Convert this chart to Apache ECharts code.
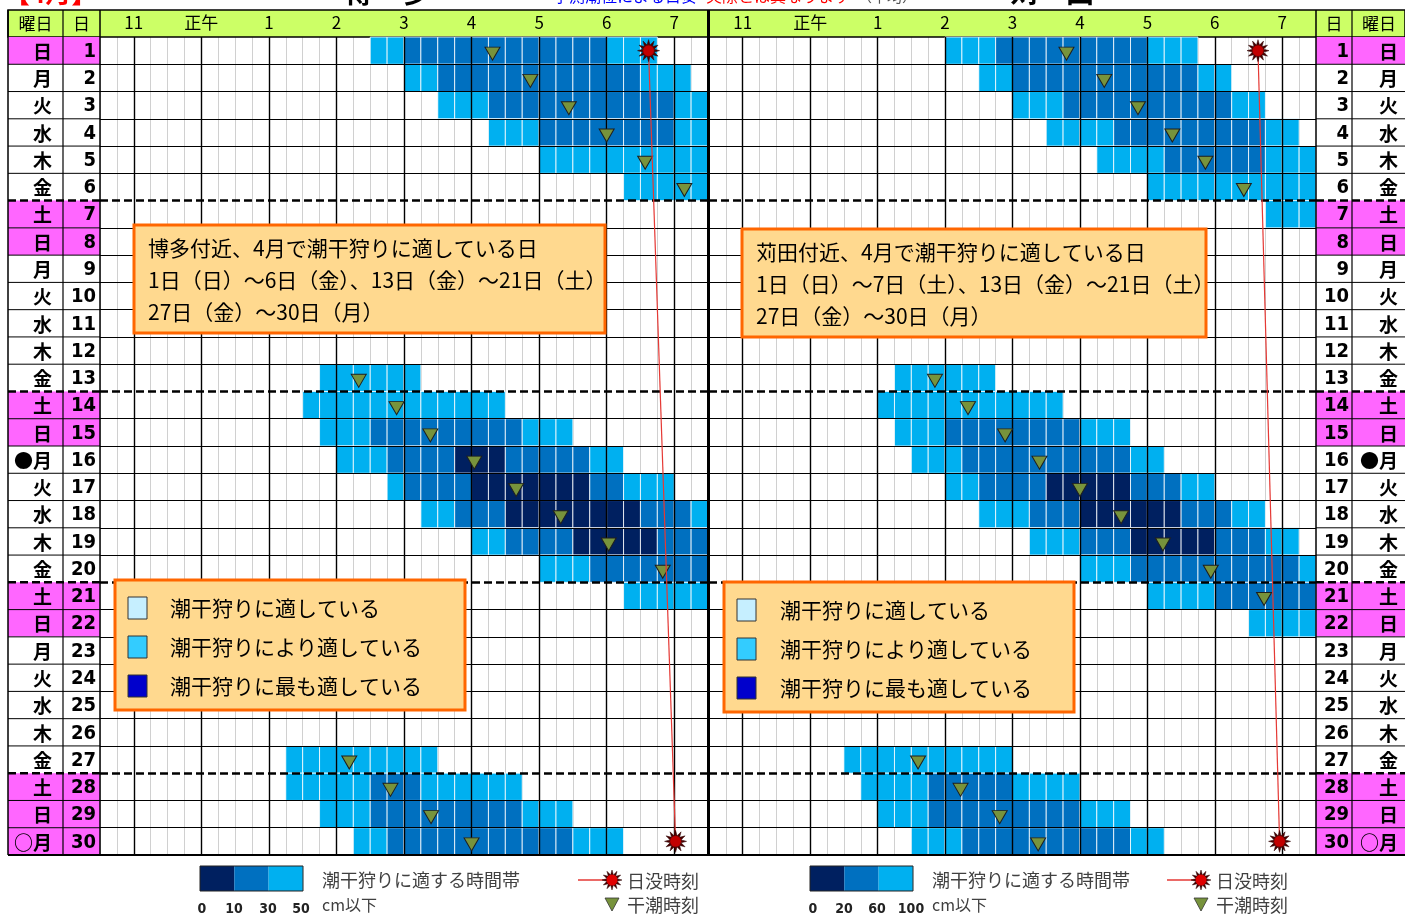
<!DOCTYPE html>
<html lang="ja">
<head>
<meta charset="utf-8">
<title>潮干狩りカレンダー 4月</title>
<script src="https://cdn.jsdelivr.net/npm/echarts@6.0.0/dist/echarts.min.js"></script>
<style>
html,body{margin:0;padding:0;background:#ffffff;}
#chart{width:1405px;height:916px;}
</style>
</head>
<body>
<div id="chart"></div>
<script>
// ---------------- data ----------------
const days = [1,2,3,4,5,6,7,8,9,10,11,12,13,14,15,16,17,18,19,20,21,22,23,24,25,26,27,28,29,30];
const weekdays = ['日','月','火','水','木','金','土','日','月','火','水','木','金','土','日','●月','火','水','木','金','土','日','月','火','水','木','金','土','日','○月'];
const holidayDays = [1,7,8,14,15,21,22,28,29,30];
const weekBreaks = [6,13,20,27];
const hourTicks = [11,12,13,14,15,16,17,18,19];
const hourLabels = ['11','正午','1','2','3','4','5','6','7'];
const slotStart = 10.5;     // first 15-minute slot starts 10:30
const slotLength = 0.25;    // 15 minutes

// [day, first slot, last slot, level]  level 1: light, 2: medium, 3: dark
const hakataBands = [
  [1,16,17,1],[1,18,29,2],[1,30,32,1],
  [2,18,19,1],[2,20,31,2],[2,32,34,1],
  [3,20,22,1],[3,23,33,2],[3,34,35,1],
  [4,23,25,1],[4,26,33,2],[4,34,35,1],
  [5,26,35,1],
  [6,31,35,1],
  [13,13,18,1],
  [14,12,23,1],
  [15,13,15,1],[15,16,24,2],[15,25,27,1],
  [16,14,16,1],[16,17,20,2],[16,21,23,3],[16,24,28,2],[16,29,30,1],
  [17,17,17,1],[17,18,21,2],[17,22,28,3],[17,29,30,2],[17,31,33,1],
  [18,19,20,1],[18,21,23,2],[18,24,31,3],[18,32,34,2],[18,35,35,1],
  [19,22,23,1],[19,24,27,2],[19,28,32,3],[19,33,35,2],
  [20,26,28,1],[20,29,35,2],
  [21,31,35,1],
  [27,11,19,1],
  [28,11,15,1],[28,16,18,2],[28,19,24,1],
  [29,13,15,1],[29,16,24,2],[29,25,27,1],
  [30,15,16,1],[30,17,27,2],[30,28,30,1]
];
const kandaBands = [
  [1,14,16,1],[1,17,25,2],[1,26,28,1],
  [2,16,17,1],[2,18,28,2],[2,29,30,1],
  [3,18,20,1],[3,21,30,2],[3,31,32,1],
  [4,20,23,1],[4,24,32,2],[4,33,34,1],
  [5,23,26,1],[5,27,32,2],[5,33,35,1],
  [6,26,35,1],
  [7,33,35,1],
  [13,11,16,1],
  [14,10,20,1],
  [15,11,13,1],[15,14,21,2],[15,22,24,1],
  [16,12,14,1],[16,15,24,2],[16,25,26,1],
  [17,14,15,1],[17,16,19,2],[17,20,24,3],[17,25,27,2],[17,28,29,1],
  [18,16,18,1],[18,19,21,2],[18,22,27,3],[18,28,30,2],[18,31,32,1],
  [19,19,21,1],[19,22,24,2],[19,25,29,3],[19,30,32,2],[19,33,34,1],
  [20,22,24,1],[20,25,34,2],[20,35,35,1],
  [21,26,29,1],[21,30,35,2],
  [22,32,35,1],
  [27,8,17,1],
  [28,9,12,1],[28,13,17,2],[28,18,21,1],
  [29,10,12,1],[29,13,21,2],[29,22,24,1],
  [30,12,14,1],[30,15,24,2],[30,25,26,1]
];
// [day, low-tide time in hours]
const hakataLowTide = [[1,16.31],[2,16.87],[3,17.44],[4,18.00],[5,18.57],[6,19.15],[13,14.33],[14,14.89],[15,15.39],[16,16.04],[17,16.66],[18,17.32],[19,18.03],[20,18.83],[27,14.19],[28,14.80],[29,15.40],[30,16.00]];
const kandaLowTide = [[1,15.80],[2,16.36],[3,16.86],[4,17.37],[5,17.86],[6,18.43],[13,13.85],[14,14.34],[15,14.89],[16,15.40],[17,16.00],[18,16.61],[19,17.23],[20,17.94],[21,18.73],[27,13.60],[28,14.23],[29,14.81],[30,15.38]];
// [day, sunset time in hours]
const hakataSunset = [[1,18.62],[30,19.02]];
const kandaSunset = [[1,18.64],[30,18.96]];
const hakataLegendTicks = ['0','10','30','50'];
const kandaLegendTicks = ['0','20','60','100'];
const hakataInfo = ['博多付近、4月で潮干狩りに適している日','1日（日）～6日（金）、13日（金）～21日（土）','27日（金）～30日（月）'];
const kandaInfo = ['苅田付近、4月で潮干狩りに適している日','1日（日）～7日（土）、13日（金）～21日（土）','27日（金）～30日（月）'];
const suitabilityNames = ['潮干狩りに適している','潮干狩りにより適している','潮干狩りに最も適している'];

// ---------------- styles ----------------
const FONT = '"Noto Sans CJK JP", "Noto Sans", sans-serif';
const NUMFONT = '"DejaVu Sans Condensed", "Liberation Sans Narrow", "Noto Sans CJK JP", sans-serif';
const levelColors = {1:'#00B0F0', 2:'#0070C0', 3:'#002060'};
const boxColors = ['#C6EFFF','#33CCFF','#0000CC'];

function starPts(cx, cy, ro, ri, n){
  const pts = [];
  for (let i = 0; i < n*2; i++){
    const r = i % 2 === 0 ? ro : ri;
    const a = Math.PI * i / n - Math.PI/2;
    pts.push([cx + r*Math.cos(a), cy + r*Math.sin(a)]);
  }
  return pts;
}
const STAR_PATH = 'path://' + starPts(10,10,10,5.2,12).map((p,i)=>(i?'L':'M')+p[0].toFixed(2)+' '+p[1].toFixed(2)).join(' ') + ' Z';

function bandsToCells(bands){
  const out = [];
  bands.forEach(([d, s0, s1, lv]) => { for (let s = s0; s <= s1; s++) out.push([slotStart + s*slotLength, d, lv]); });
  return out;
}
function renderCell(params, api){
  const t = api.value(0), d = api.value(1), lv = api.value(2);
  const p0 = api.coord([t, d-1]), p1 = api.coord([t+slotLength, d]);
  return {type:'rect', shape:{x:p0[0], y:p0[1], width:p1[0]-p0[0], height:p1[1]-p0[1]},
    style:{fill:levelColors[lv], stroke:'#ffffff', lineWidth:0.8}};
}
function makeLabelRender(L){
  return function(params, api){
    const d = api.value(1);
    const yt = api.coord([0, d-1])[1], yb = api.coord([0, d])[1], ym = (yt+yb)/2 + 1;
    const X = v => api.coord([v, d])[0];
    const fill = holidayDays.indexOf(d) >= 0 ? '#FF66FF' : '#FFFFFF';
    const brk = weekBreaks.indexOf(d) >= 0;
    return {type:'group', children:[
      {type:'rect', z2:0, shape:{x:X(0), y:yt, width:X(L.width)-X(0), height:yb-yt}, style:{fill}},
      {type:'line', z2:10, shape:{x1:X(0), y1:yb, x2:X(L.width), y2:yb},
        style:{stroke:'#000', lineWidth: brk?2.5:1, lineDash: brk?[8,4]:null}},
      {type:'text', z2:5, style:{text:weekdays[d-1], x:X(L.wdRight), y:ym, align:'right', textAlign:'right',
        verticalAlign:'middle', textVerticalAlign:'middle', font:'bold 19px '+FONT, fill:'#000'}},
      {type:'text', z2:5, style:{text:String(d), x:X(L.dyRight), y:ym, align:'right', textAlign:'right',
        verticalAlign:'middle', textVerticalAlign:'middle', font:'bold 20px '+NUMFONT, fill:'#000'}}
    ]};
  };
}

const panelGridLines = [];
hourTicks.forEach(h => panelGridLines.push({xAxis:h, lineStyle:{color:'#000', width:1.4, type:'solid'}}));
days.slice(0, days.length-1).forEach(d => {
  if (weekBreaks.indexOf(d) < 0) panelGridLines.push({yAxis:d, lineStyle:{color:'#000', width:1, type:'solid'}});
});
weekBreaks.forEach(d => panelGridLines.push({yAxis:d, lineStyle:{color:'#000', width:2.5, type:[8,4]}}));

function panelSeries(idx, bands, lowTide, sunset){
  return [
    {type:'custom', xAxisIndex:idx, yAxisIndex:idx, z:2, silent:true, renderItem:renderCell,
      encode:{x:0, y:1}, data:bandsToCells(bands)},
    {type:'scatter', xAxisIndex:idx, yAxisIndex:idx, z:6, silent:true, symbol:'triangle', symbolRotate:180,
      symbolSize:[15,13], symbolOffset:[0,3],
      itemStyle:{color:'#77933C', borderColor:'#1f1f1f', borderWidth:1, opacity:1},
      data: lowTide.map(([d,t]) => [t, d-0.5]),
      markLine:{silent:true, z:5, symbol:['none','none'], label:{show:false}, data:panelGridLines, animation:false}},
    {type:'line', xAxisIndex:idx, yAxisIndex:idx, z:7, silent:true, data: sunset.map(([d,t]) => [t, d-0.5]),
      symbol:STAR_PATH, symbolSize:22, lineStyle:{color:'#E53935', width:1.2},
      itemStyle:{color:'#4a0000', borderColor:'#2a0000', borderWidth:0.5}},
    {type:'scatter', xAxisIndex:idx, yAxisIndex:idx, z:8, silent:true, symbol:'circle', symbolSize:11,
      itemStyle:{color:'#E00000', borderColor:'#900000', borderWidth:0.5},
      data: sunset.map(([d,t]) => [t, d-0.5])}
  ];
}

// ---------------- graphic (frame, header, boxes, legends) ----------------
const G = [];
function gText(text, x, y, font, fill, align, z){
  G.push({type:'text', z: z===undefined?100:z, silent:true,
    style:{text, x, y, font, fill: fill||'#000', align: align||'left', textAlign: align||'left',
      verticalAlign:'middle', textVerticalAlign:'middle'}});
}
function gRect(x, y, w, h, style, z){ G.push({type:'rect', z: z===undefined?100:z, silent:true, shape:{x, y, width:w, height:h}, style}); }
function gLine(x1, y1, x2, y2, style, z){ G.push({type:'line', z: z===undefined?50:z, silent:true, shape:{x1, y1, x2, y2}, style}); }
function gPoly(points, style, z){ G.push({type:'polygon', z: z===undefined?100:z, silent:true, shape:{points}, style}); }

// clipped title strip (only its lower edge is visible in the reference)
gText('【4月】', 4, -7, 'bold 26px '+FONT, '#FF0000', 'left', 1);
gText('博　多', 387, -8, 'bold 28px '+FONT, '#000', 'center', 1);
gText('予測潮位による目安', 625, -4, '16px '+FONT, '#0000FF', 'center', 1);
gText('実際とは異なります', 778, -4, '16px '+FONT, '#FF0000', 'center', 1);
gText('（平均）', 887, -4, '15px '+FONT, '#555', 'center', 1);
gText('苅　田', 1052, -8, 'bold 28px '+FONT, '#000', 'center', 1);

// header row
gRect(8, 10, 1397, 27, {fill:'#CCFF66', stroke:'#000', lineWidth:1.5}, 1);
gText('曜日', 35.5, 24, '17px '+FONT, '#000', 'center', 2);
gText('日', 81.5, 24, '17px '+FONT, '#000', 'center', 2);
gText('日', 1334, 24, '17px '+FONT, '#000', 'center', 2);
gText('曜日', 1379, 24, '17px '+FONT, '#000', 'center', 2);

// frame lines
gLine(8, 10, 8, 855, {stroke:'#000', lineWidth:1.5});
gLine(63, 10, 63, 855, {stroke:'#000', lineWidth:1.2});
gLine(100, 10, 100, 855, {stroke:'#000', lineWidth:1.5});
gLine(708.5, 10, 708.5, 855, {stroke:'#000', lineWidth:3});
gLine(1316, 10, 1316, 855, {stroke:'#000', lineWidth:1.5});
gLine(1352, 10, 1352, 855, {stroke:'#000', lineWidth:1.2});
gLine(8, 855, 1405, 855, {stroke:'#000', lineWidth:2.2});

// info boxes
function infoBox(x, y, w, h, lines, tx, ty){
  gRect(x, y, w, h, {fill:'#FFD98F', stroke:'#FF6600', lineWidth:3});
  lines.forEach((t, i) => gText(t, tx, ty + i*32, '21px '+FONT, '#000', 'left', 101));
}
infoBox(134, 225, 471, 108, hakataInfo, 148, 248);
infoBox(742, 229, 464, 108, kandaInfo, 756, 252);

function suitBox(x, y, sx, tx){
  gRect(x, y, 350, 130, {fill:'#FFD98F', stroke:'#FF6600', lineWidth:3});
  suitabilityNames.forEach((t, i) => {
    const cy = y + 28 + i*39;
    gRect(sx, cy-11, 19, 22, {fill:boxColors[i], stroke:'#333', lineWidth:1}, 101);
    gText(t, tx, cy, '21px '+FONT, '#000', 'left', 101);
  });
}
suitBox(115, 580, 128, 170);
suitBox(724, 582, 737, 780);

// bottom legends
function bottomLegend(x0, ticks, tickX, textX, lineX0, starX){
  const cols = [levelColors[3], levelColors[2], levelColors[1]];
  cols.forEach((c, i) => gRect(x0 + i*34.3, 866, 34.3, 25, {fill:c, stroke:null}));
  gRect(x0, 866, 103, 25, {fill:null, stroke:'#222', lineWidth:1}, 101);
  ticks.forEach((t, i) => gText(t, tickX[i], 909, 'bold 14px '+NUMFONT, '#222', 'center'));
  gText('潮干狩りに適する時間帯', textX, 880, '18px '+FONT, '#404040', 'left');
  gText('cm以下', textX, 905, '16px '+FONT, '#404040', 'left');
  gLine(lineX0, 880, starX, 880, {stroke:'#E53935', lineWidth:1.5}, 100);
  gPoly(starPts(starX, 880, 10, 5.2, 12), {fill:'#4a0000', stroke:'#2a0000', lineWidth:0.5}, 101);
  G.push({type:'circle', z:102, silent:true, shape:{cx:starX, cy:880, r:5.5}, style:{fill:'#E00000'}});
  gText('日没時刻', starX + 15, 881, '18px '+FONT, '#404040', 'left');
  gPoly([[starX-7, 898], [starX+7, 898], [starX, 911]], {fill:'#77933C', stroke:'#333', lineWidth:0.8}, 101);
  gText('干潮時刻', starX + 15, 905, '18px '+FONT, '#404040', 'left');
}
bottomLegend(200, hakataLegendTicks, [202, 234, 268, 301], 322, 578, 612);
bottomLegend(810, kandaLegendTicks, [813, 844, 877, 911], 932, 1167, 1201);

// ---------------- chart ----------------
const hourAxisLabel = {
  margin:6, fontSize:17, color:'#000', fontFamily:'"Noto Sans CJK JP", sans-serif',
  formatter: v => { const i = hourTicks.findIndex(h => Math.abs(h - v) < 1e-6); return i >= 0 ? hourLabels[i] : ''; }
};
function gridAxisX(idx){
  return {gridIndex:idx, type:'value', min:10.5, max:19.5, interval:0.25,
    axisLine:{show:false}, axisTick:{show:false}, axisLabel:{show:false},
    splitLine:{show:true, lineStyle:{color:'#d0d0d0', width:1}}};
}
function labelAxisX(idx){
  return {gridIndex:idx, type:'value', position:'top', min:10.5, max:19.5, interval:0.25, z:10,
    axisLine:{show:false}, axisTick:{show:false}, splitLine:{show:false}, axisLabel:hourAxisLabel};
}
function yAx(idx){ return {gridIndex:idx, type:'value', min:0, max:30, inverse:true, show:false}; }

const option = {
  backgroundColor:'#ffffff',
  animation:false,
  grid:[
    {left:8, top:37, width:92, height:818, outerBoundsMode:'none'},
    {left:100, top:37, width:608, height:818, outerBoundsMode:'none'},
    {left:709, top:37, width:607, height:818, outerBoundsMode:'none'},
    {left:1316, top:37, width:89, height:818, outerBoundsMode:'none'}
  ],
  xAxis:[
    {gridIndex:0, type:'value', min:0, max:92, show:false},
    gridAxisX(1),
    gridAxisX(2),
    {gridIndex:3, type:'value', min:0, max:89, show:false},
    labelAxisX(1),
    labelAxisX(2)
  ],
  yAxis:[yAx(0), yAx(1), yAx(2), yAx(3)],
  series:[
    {type:'custom', xAxisIndex:0, yAxisIndex:0, silent:true, encode:{x:0, y:1},
      data: days.map(d => [0, d]), renderItem: makeLabelRender({width:92, wdRight:44, dyRight:88})},
    {type:'custom', xAxisIndex:3, yAxisIndex:3, silent:true, encode:{x:0, y:1},
      data: days.map(d => [0, d]), renderItem: makeLabelRender({width:89, wdRight:82, dyRight:33})},
    ...panelSeries(1, hakataBands, hakataLowTide, hakataSunset),
    ...panelSeries(2, kandaBands, kandaLowTide, kandaSunset)
  ],
  graphic: G
};

const chart = echarts.init(document.getElementById('chart'), null, {renderer:'canvas', width:1405, height:916});
chart.setOption(option);
</script>
</body>
</html>
